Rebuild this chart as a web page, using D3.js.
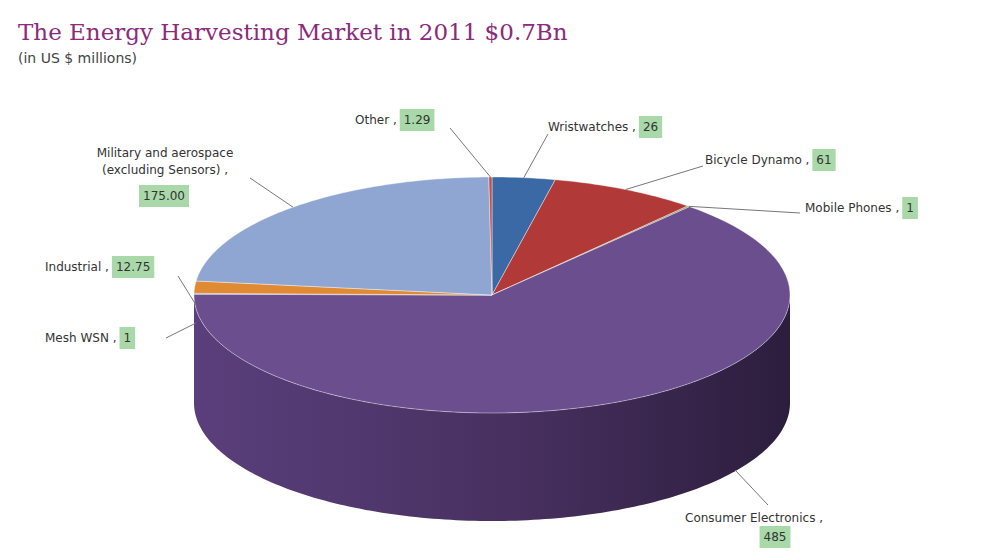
<!DOCTYPE html>
<html><head><meta charset="utf-8">
<script src="https://cdn.jsdelivr.net/npm/d3@7/dist/d3.min.js"></script>
<style>body{margin:0;background:#fff}</style>
</head><body><div id="chart"></div>
<script>
var categories = ["Wristwatches", "Bicycle Dynamo", "Mobile Phones", "Consumer Electronics", "Mesh WSN", "Industrial", "Military and aerospace (excluding Sensors)", "Other"];
var values = [26, 61, 1, 485, 1, 12.75, 175, 1.29];
var valueLabels = ["26", "61", "1", "485", "1", "12.75", "175.00", "1.29"];
var colors = ["#3b69a6", "#b13a38", "#8a8a50", "#6b4e8e", "#7a5aa0", "#e08b33", "#8ea6d1", "#c0504d"];
var sideColors = ["#2a4c7a", "#7e2927", "#5f5f38", "#4a3366", "#543e70", "#a8661f", "#62779a", "#8a3835"];

// label layout
var labelLayout = [
  {lines: ["Wristwatches ,"], x: 548, y: 131, anchor: "start", inline: true, lx: 548, ly: 134},
  {lines: ["Bicycle Dynamo ,"], x: 705, y: 164, anchor: "start", inline: true, lx: 703, ly: 166},
  {lines: ["Mobile Phones ,"], x: 805, y: 212, anchor: "start", inline: true, lx: 800, ly: 213},
  {lines: ["Consumer Electronics ,"], x: 685, y: 522, anchor: "start", box2: [775, 541], lx: 768, ly: 505, ax: 735, ay: 470},
  {lines: ["Mesh WSN ,"], x: 45, y: 342, anchor: "start", inline: true, lx: 166, ly: 338, ax: 196, ay: 323},
  {lines: ["Industrial ,"], x: 45, y: 271, anchor: "start", inline: true, lx: 178, ly: 276, ax: 196, ay: 305},
  {lines: ["Military and aerospace", "(excluding Sensors) ,"], x: 165, y: 157, anchor: "middle", box2: [164, 200], lx: 250, ly: 178},
  {lines: ["Other ,"], x: 355, y: 124, anchor: "start", inline: true, lx: 450, ly: 128}
];

var W = 1000, H = 556;
var cx = 492, cy = 295, rx = 298, ry = 118, depth = 108;

var svg = d3.select("#chart").append("svg").attr("width", W).attr("height", H)
  .style("font-family", "'DejaVu Sans', sans-serif");

svg.append("text").attr("x", 18).attr("y", 40)
  .style("font-family", "'DejaVu Serif', 'Liberation Serif', serif")
  .style("font-size", "23px").style("fill", "#8c2a7c")
  .text("The Energy Harvesting Market in 2011 $0.7Bn");
svg.append("text").attr("x", 18).attr("y", 63)
  .style("font-size", "14px").style("fill", "#444")
  .text("(in US $ millions)");

var pie = d3.pie().sort(null).value(d => d)(values);

function pt(a, dy) { return [cx + rx * Math.sin(a), cy - ry * Math.cos(a) + (dy || 0)]; }
function arcPts(a0, a1, dy) {
  var n = Math.max(2, Math.ceil((a1 - a0) / 0.02)), p = [];
  for (var i = 0; i <= n; i++) p.push(pt(a0 + (a1 - a0) * i / n, dy));
  return p;
}

var defs = svg.append("defs");
var grad = defs.append("linearGradient").attr("id", "side").attr("x1", "0").attr("x2", "1");
grad.append("stop").attr("offset", "0%").attr("stop-color", "#5a3f7c");
grad.append("stop").attr("offset", "55%").attr("stop-color", "#47305f");
grad.append("stop").attr("offset", "100%").attr("stop-color", "#2c1d3d");

// side walls (front half)
var line = d3.line();
pie.forEach(function(d, i) {
  var a0 = Math.max(d.startAngle, Math.PI / 2), a1 = Math.min(d.endAngle, 3 * Math.PI / 2);
  if (a1 <= a0) return;
  var top = arcPts(a0, a1, 0), bot = arcPts(a0, a1, depth).reverse();
  svg.append("path").attr("d", line(top.concat(bot)) + "Z")
    .attr("fill", i === 3 ? "url(#side)" : sideColors[i]);
});

// top faces
pie.forEach(function(d, i) {
  var p = [[cx, cy]].concat(arcPts(d.startAngle, d.endAngle, 0));
  svg.append("path").attr("d", line(p) + "Z").attr("fill", colors[i])
    .attr("stroke", "rgba(255,255,255,0.5)").attr("stroke-width", 0.8);
});

// labels
var boxColor = "#a9d9a9";
pie.forEach(function(d, i) {
  var L = labelLayout[i];
  var mid = (d.startAngle + d.endAngle) / 2;
  var anchor = L.ax != null ? [L.ax, L.ay] : pt(mid, 0);
  svg.append("line").attr("x1", L.lx).attr("y1", L.ly).attr("x2", anchor[0]).attr("y2", anchor[1])
    .attr("stroke", "#777").attr("stroke-width", 1);
  var t = svg.append("text").attr("text-anchor", L.anchor).style("font-size", "12px").style("fill", "#333");
  L.lines.forEach(function(s, j) {
    t.append("tspan").attr("x", L.x).attr("y", L.y + j * 17).text(s);
  });
  var bx, by;
  if (L.inline) {
    var w = t.node().getBBox().width;
    bx = L.x + w + 3; by = L.y;
  } else { bx = L.box2[0]; by = L.box2[1]; }
  var vt = svg.append("text").attr("x", bx + 4).attr("y", by).style("font-size", "12px").style("fill", "#333")
    .text(valueLabels[i]);
  if (!L.inline) vt.attr("text-anchor", "middle").attr("x", bx);
  var bb = vt.node().getBBox();
  svg.insert("rect", "text").attr("x", bb.x - 4).attr("y", bb.y - 4).attr("width", bb.width + 8)
    .attr("height", bb.height + 8).attr("fill", boxColor);
});
</script></body></html>
